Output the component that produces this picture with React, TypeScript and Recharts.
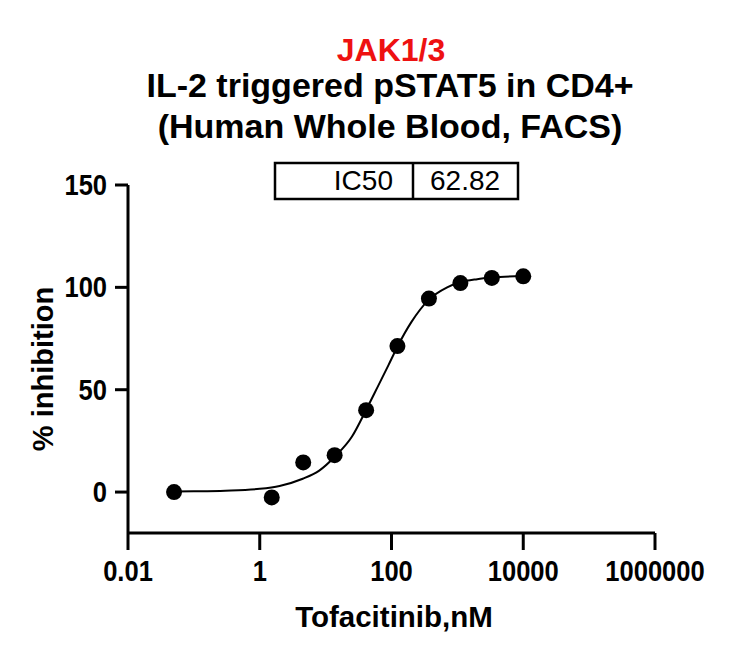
import React from "react";
import {
  ComposedChart,
  Line,
  Scatter,
  XAxis,
  YAxis,
} from "recharts";

// measured points, Tofacitinib concentration (nM) vs % inhibition
const concentrations = [0.05, 1.52, 4.57, 13.7, 41.2, 123, 370, 1111, 3333, 10000];
const inhibition = [0, -2.6, 14.5, 18, 40, 71.3, 94.5, 102.1, 104.6, 105.4];

// fitted curve
const curveConc = [0.05, 0.1, 0.3, 1, 2, 4.5, 8, 14, 25, 41, 63, 90, 123, 200, 370, 700, 1111, 2000, 3333, 10000];
const curveValue = [0.3, 0.4, 0.7, 1.6, 3, 6.5, 10.5, 17.5, 27, 40, 52, 62, 71, 83, 94, 100, 102.5, 104, 104.8, 105.6];

const xTicks = [0.01, 1, 100, 10000, 1000000];
const yTicks = [0, 50, 100, 150];

const titleLines = ["IL-2 triggered pSTAT5 in CD4+", "(Human Whole Blood, FACS)"];
const ic50Label = "IC50";
const ic50Value = "62.82";

const points = concentrations.map((x, i) => ({ x, y: inhibition[i] }));
const curve = curveConc.map((x, i) => ({ x, y: curveValue[i] }));

const FONT = '"Liberation Sans", Arial, Helvetica, sans-serif';
const W = 739;
const H = 655;
const TICK_FS = 29;
const SQUEEZE = 0.88;

// tick labels in the original are a little narrow, so squeeze them horizontally
function XTick({ x, y, payload }: any) {
  return (
    <text
      transform={`translate(${x} ${y + 21}) scale(${SQUEEZE} 1)`}
      textAnchor="middle"
      fontSize={TICK_FS}
      fontWeight={700}
      fontFamily={FONT}
      fill="#000"
    >
      {String(payload.value)}
    </text>
  );
}

function YTick({ x, y, payload }: any) {
  return (
    <text
      transform={`translate(${x} ${y + 10}) scale(${SQUEEZE} 1)`}
      textAnchor="end"
      fontSize={TICK_FS}
      fontWeight={700}
      fontFamily={FONT}
      fill="#000"
    >
      {String(payload.value)}
    </text>
  );
}

export default function App() {
  return (
    <div style={{ position: "absolute", left: 0, top: 0, width: W, height: H, background: "#fff", fontFamily: FONT }}>
      <ComposedChart
        width={W}
        height={H}
        margin={{ top: 185, right: 84, bottom: 0, left: 0 }}
      >
        <XAxis
          type="number"
          dataKey="x"
          scale="log"
          domain={[0.01, 1000000]}
          ticks={xTicks}
          allowDataOverflow
          height={122}
          tickSize={17}
          tickMargin={10}
          axisLine={{ stroke: "#000", strokeWidth: 3 }}
          tickLine={{ stroke: "#000", strokeWidth: 3 }}
          tick={<XTick />}
        />
        <YAxis
          type="number"
          domain={[-20, 150]}
          ticks={yTicks}
          allowDataOverflow
          width={128}
          tickSize={13}
          tickMargin={8}
          axisLine={{ stroke: "#000", strokeWidth: 3 }}
          tickLine={{ stroke: "#000", strokeWidth: 3 }}
          tick={<YTick />}
        />
        <Line
          data={curve}
          dataKey="y"
          type="monotone"
          stroke="#000"
          strokeWidth={2}
          dot={false}
          activeDot={false}
          isAnimationActive={false}
        />
        <Scatter
          data={points}
          dataKey="y"
          fill="#000"
          isAnimationActive={false}
          shape={(p: any) => <circle cx={p.cx} cy={p.cy} r={8} fill="#000" />}
        />
      </ComposedChart>

      <svg
        width={W}
        height={H}
        style={{ position: "absolute", left: 0, top: 0, pointerEvents: "none" }}
        fontFamily={FONT}
      >
        <text x={391} y={61} textAnchor="middle" fontSize={32} fontWeight={700} fill="#ee1111">
          JAK1/3
        </text>
        <text x={390} y={97} textAnchor="middle" fontSize={34} fontWeight={700} fill="#000">
          {titleLines[0]}
        </text>
        <text x={390} y={138} textAnchor="middle" fontSize={34} fontWeight={700} fill="#000">
          {titleLines[1]}
        </text>

        <rect x={275} y={163} width={243} height={36} fill="#fff" stroke="#000" strokeWidth={2.5} />
        <line x1={413} y1={163} x2={413} y2={199} stroke="#000" strokeWidth={2.5} />
        <text x={393} y={190} textAnchor="end" fontSize={28} fill="#000">
          {ic50Label}
        </text>
        <text x={430} y={190} textAnchor="start" fontSize={28} fill="#000">
          {ic50Value}
        </text>

        <text x={394} y={627} textAnchor="middle" fontSize={29.5} fontWeight={700} fill="#000">
          Tofacitinib,nM
        </text>
        <text
          x={0}
          y={0}
          transform="translate(53 369) rotate(-90)"
          textAnchor="middle"
          fontSize={29}
          fontWeight={700}
          fill="#000"
        >
          % inhibition
        </text>
      </svg>
    </div>
  );
}
